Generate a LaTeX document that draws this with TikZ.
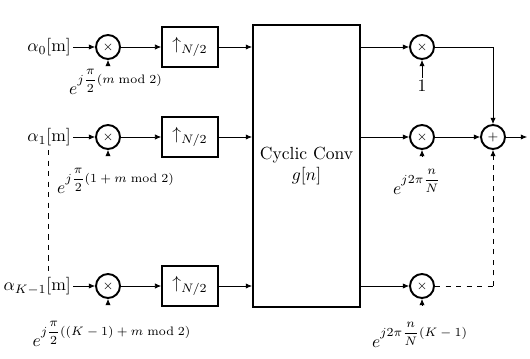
\documentclass[tikz,border=0pt]{standalone}
\usetikzlibrary{arrows.meta}
\newcommand\myexp[1]{$e^{\mbox{\scriptsize$\displaystyle #1$}}$}
\begin{document}
\begin{tikzpicture}[x=0.02cm,y=-0.02cm,
  mult/.style={circle,draw,line width=1.1pt,minimum size=0.48cm,inner sep=0pt},
  upbox/.style={draw,line width=1pt,minimum width=1.12cm,minimum height=0.8cm,inner sep=1pt},
  convbox/.style={draw,line width=1.2pt,minimum width=2.14cm,minimum height=5.64cm,align=center},
  arr/.style={-{Latex[length=3.5pt,width=3pt]},line width=0.4pt},
  dsh/.style={dashed,line width=0.4pt},
  lbl/.style={inner sep=1pt}]
\useasboundingbox (0,0) rectangle (530,358);
% inputs
\node[lbl,anchor=east] (a0) at (73,47) {$\alpha_0[\mathrm{m}]$};
\node[lbl,anchor=east] (a1) at (73,137) {$\alpha_1[\mathrm{m}]$};
\node[lbl,anchor=east] (a2) at (73,286) {$\alpha_{K-1}[\mathrm{m}]$};
% multipliers
\node[mult] (m0) at (108,47) {\scriptsize$\times$};
\node[mult] (m1) at (108,137) {\scriptsize$\times$};
\node[mult] (m2) at (108,286) {\scriptsize$\times$};
% phase labels
\node[lbl] (p0) at (116,82) {\myexp{j\frac{\pi}{2}(m \bmod 2)}};
\node[lbl] (p1) at (116,181) {\myexp{j\frac{\pi}{2}(1+m \bmod 2)}};
\node[lbl] (p2) at (112,334) {\myexp{j\frac{\pi}{2}((K-1)+m \bmod 2)}};
\coordinate (q0) at (108,65);
\coordinate (q1) at (108,155);
\coordinate (q2) at (108,304);
% upsamplers
\node[upbox] (u0) at (190,47) {$\uparrow_{N/2}$};
\node[upbox] (u1) at (190,137) {$\uparrow_{N/2}$};
\node[upbox] (u2) at (190,286) {$\uparrow_{N/2}$};
% cyclic conv
\node[convbox] (cc) at (306.5,166) {Cyclic Conv\\$g[n]$};
% output multipliers
\node[mult] (o0) at (422,47) {\scriptsize$\times$};
\node[mult] (o1) at (422,137) {\scriptsize$\times$};
\node[mult] (o2) at (422,286) {\scriptsize$\times$};
\node[lbl] (w0) at (422,86) {$1$};
\node[lbl] (w1) at (417,182) {\myexp{j2\pi\frac{n}{N}}};
\node[lbl] (w2) at (420,335) {\myexp{j2\pi\frac{n}{N}(K-1)}};
\coordinate (r1) at (422,156);
\coordinate (r2) at (422,305);
% sum
\node[mult] (s) at (493,137) {\scriptsize$+$};
\coordinate (out) at (527,137);
\coordinate (c0) at (493,47);
\coordinate (c2) at (493,286);
\coordinate (d1) at (48,150);
\coordinate (d2) at (48,273);
% connections
\foreach \i in {0,1,2}{
  \draw[arr] (a\i) -- (m\i);
  \draw[arr] (m\i) -- (u\i);
  \draw[arr] (u\i) -- (u\i -| cc.west);
  \draw[arr] (u\i -| cc.east) -- (o\i);
}
\draw[arr] (q0) -- (m0);
\draw[arr] (q1) -- (m1);
\draw[arr] (q2) -- (m2);
\draw[arr] (w0) -- (o0);
\draw[arr] (r1) -- (o1);
\draw[arr] (r2) -- (o2);
\draw[arr] (o0) -- (c0) -- (s);
\draw[arr] (o1) -- (s);
\draw[dsh] (o2) -- (c2);
\draw[dsh,arr] (c2) -- (s);
\draw[arr] (s) -- (out);
\draw[dsh] (d1) -- (d2);
\end{tikzpicture}
\end{document}
